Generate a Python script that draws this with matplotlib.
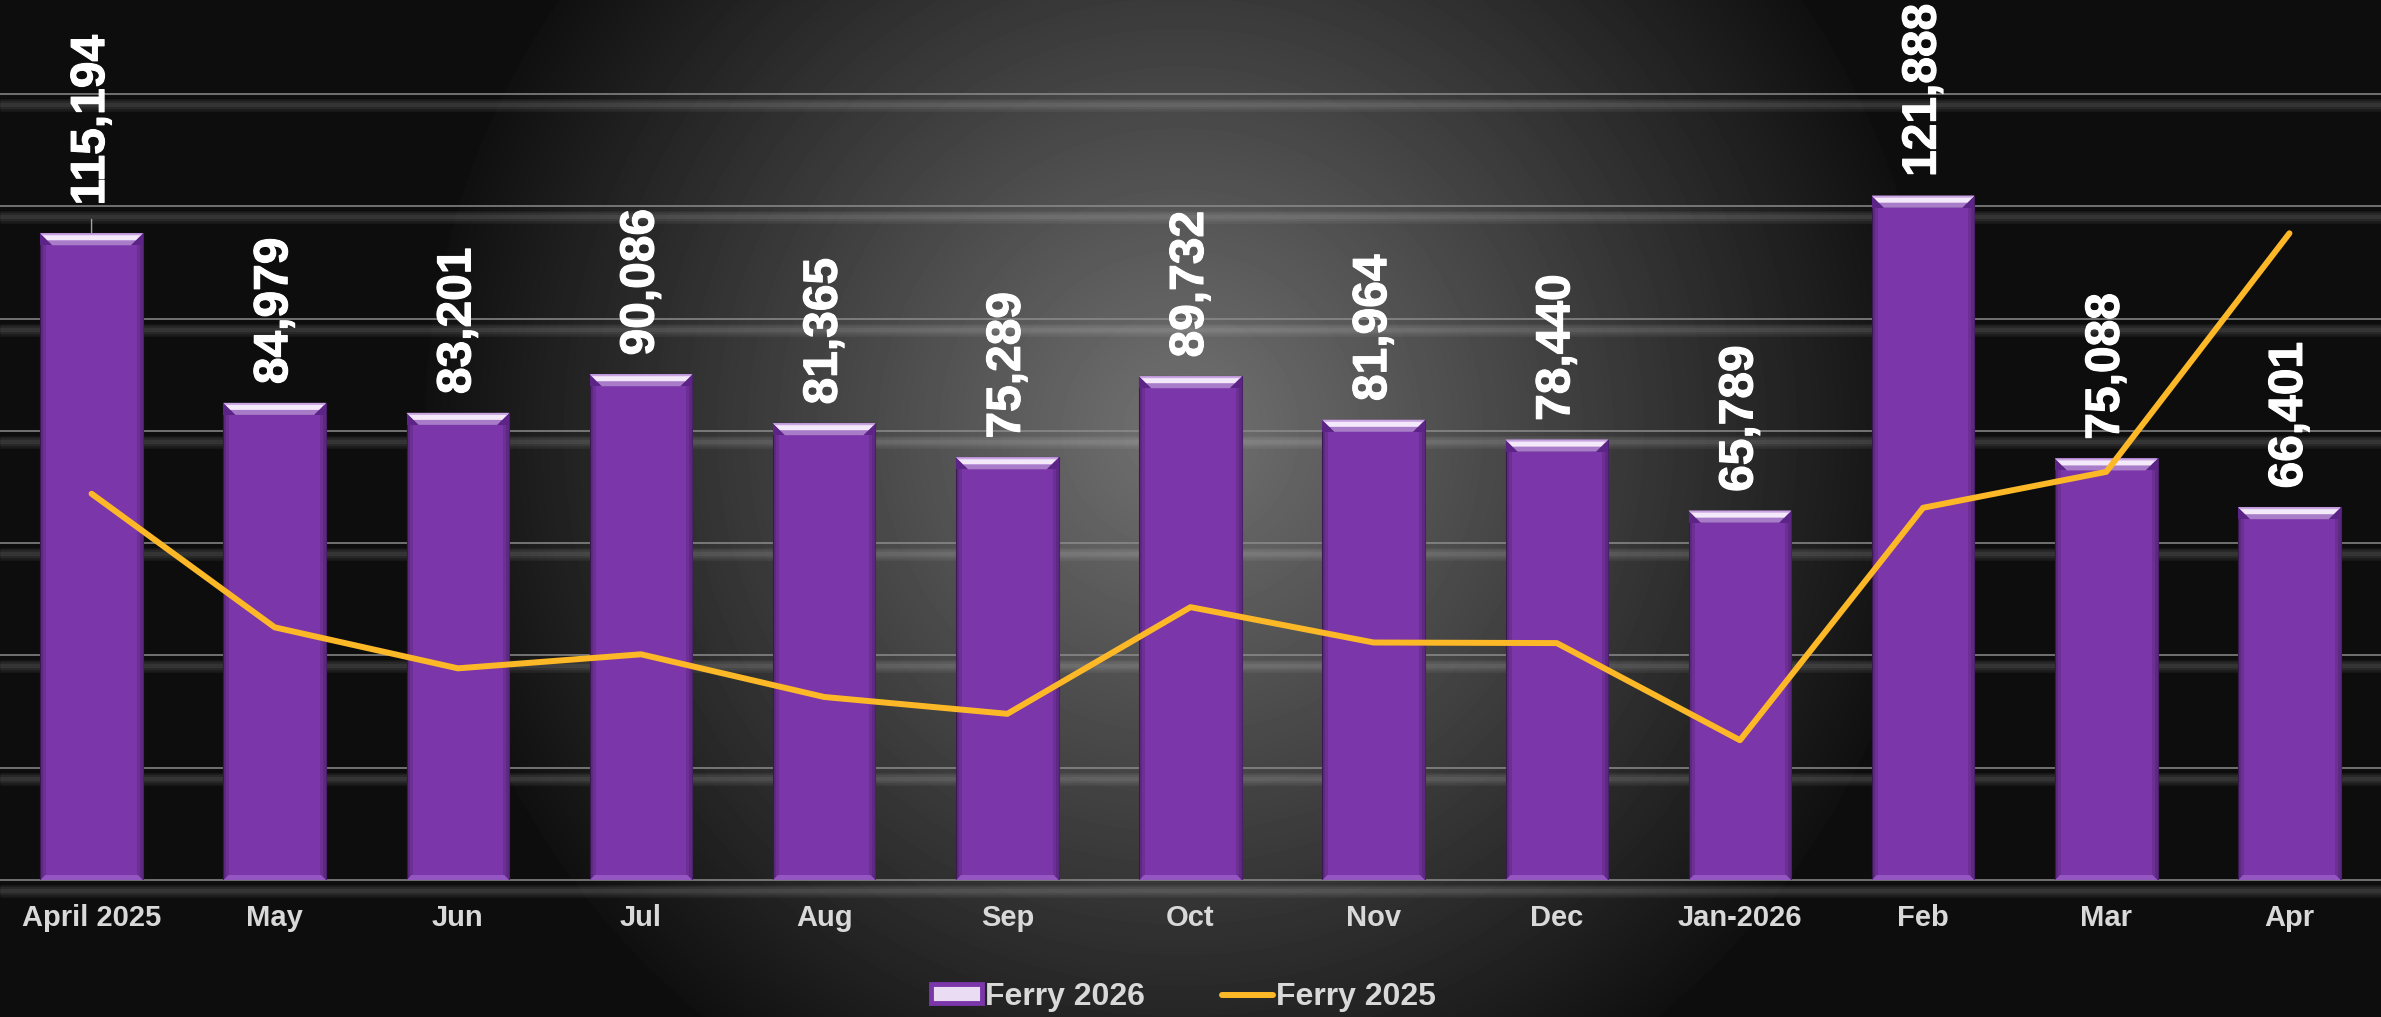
import numpy as np
import matplotlib.pyplot as plt
import matplotlib.patheffects as pe
from matplotlib.patches import Polygon, Patch
from matplotlib.lines import Line2D
from matplotlib.transforms import IdentityTransform, ScaledTranslation

plt.rcParams['font.family'] = 'Liberation Sans'

months = ['April 2025', 'May', 'Jun', 'Jul', 'Aug', 'Sep', 'Oct', 'Nov', 'Dec',
          'Jan-2026', 'Feb', 'Mar', 'Apr']
ferry_2026 = [115194, 84979, 83201, 90086, 81365, 75289, 89732, 81964, 78440,
              65789, 121888, 75088, 66401]
ferry_2025 = [68800, 45000, 37700, 40200, 32600, 29600, 48600, 42300, 42200,
              24900, 66300, 72700, 115194]
grid_ticks = [0, 20000, 40000, 60000, 80000, 100000, 120000, 140000]

W, H = 2381, 1017
fig = plt.figure(figsize=(W / 100, H / 100), dpi=100)

# radial grey background
yy, xx = np.mgrid[0:H, 0:W]
r = np.hypot(xx - 1180, yy - 430)
bgval = np.where(r < 756, 114 - 0.13 * r, 13)
bg = fig.add_axes([0, 0, 1, 1])
bg.imshow(bgval, cmap='gray', vmin=0, vmax=255, aspect='auto', interpolation='bilinear')
bg.axis('off')

ax = fig.add_axes([0, 1 - 880 / H, 1, (880 - 94) / H])
ax.patch.set_alpha(0)
x = np.arange(len(months))
ax.set_xlim(-0.5, len(months) - 0.5)
ax.set_ylim(0, 140000)
for s in ax.spines.values():
    s.set_visible(False)

# gridlines with a soft shadow band under each
shift = ax.get_yaxis_transform() + ScaledTranslation(0, -0.11, fig.dpi_scale_trans)
for v in grid_ticks:
    ax.plot([0, 1], [v, v], transform=ax.get_yaxis_transform(), color='#8c8c8c', lw=1.1, zorder=1,
            clip_on=False)
    for lw in (9, 6, 3):
        ax.plot([0, 1], [v, v], transform=shift, color='white', alpha=0.06, lw=lw, zorder=1,
                clip_on=False, solid_capstyle='butt')

bars = ax.bar(x, ferry_2026, width=0.56, color='#7b36a9', edgecolor='#4a2068', lw=0.8, zorder=3)

# bevel effects on each bar (pixel sized)
ident = IdentityTransform()
for rect in bars:
    px0, pyb = ax.transData.transform((rect.get_x(), 0))
    px1, pyt = ax.transData.transform((rect.get_x() + rect.get_width(), rect.get_height()))
    h = 12
    def add(pts, c, a=1.0):
        ax.add_patch(Polygon(pts, closed=True, transform=ident, facecolor=c, edgecolor='none',
                             alpha=a, zorder=3.5))
    # darker sides
    add([(px0, pyb), (px0 + 6, pyb), (px0 + 6, pyt), (px0, pyt)], 'black', 0.12)
    add([(px1 - 6, pyb), (px1, pyb), (px1, pyt), (px1 - 6, pyt)], 'black', 0.12)
    add([(px0, pyb), (px0 + 3, pyb), (px0 + 3, pyt), (px0, pyt)], 'black', 0.12)
    add([(px1 - 3, pyb), (px1, pyb), (px1, pyt), (px1 - 3, pyt)], 'black', 0.12)
    # top bevel
    add([(px0, pyt), (px1, pyt), (px1, pyt - h), (px0, pyt - h)], '#5b2486')
    add([(px0, pyt), (px1, pyt), (px1 - h, pyt - h), (px0 + h, pyt - h)], '#a87cc9')
    add([(px0 + 1, pyt - 1), (px1 - 1, pyt - 1), (px1 - 7, pyt - 7), (px0 + 7, pyt - 7)], '#f4e8fb')
    add([(px0, pyt), (px1, pyt), (px1 - 2, pyt - 2), (px0 + 2, pyt - 2)], '#c9a5e2')
    # bottom bevel
    add([(px0, pyb), (px1, pyb), (px1 - 5, pyb + 5), (px0 + 5, pyb + 5)], '#9457c2')

ax.plot(x, ferry_2025, color='#fdb827', lw=4.3, zorder=6, solid_joinstyle='round',
        solid_capstyle='round')

thick = [pe.withStroke(linewidth=0.8, foreground='white')]
for i, v in enumerate(ferry_2026):
    if i == 0:
        ax.annotate(f'{v:,}', xy=(i, v), xytext=(0, 20), textcoords='offset points',
                    rotation=90, ha='center', va='bottom', color='white', fontsize=34.5,
                    fontweight='bold', annotation_clip=False, zorder=5, path_effects=thick,
                    arrowprops=dict(arrowstyle='-', color='#a0a0a0', lw=1, shrinkA=8, shrinkB=0))
    else:
        ax.annotate(f'{v:,}', xy=(i, v), xytext=(0, 13.5), textcoords='offset points',
                    rotation=90, ha='center', va='bottom', color='white', fontsize=34.5,
                    fontweight='bold', annotation_clip=False, zorder=5, path_effects=thick)

ax.set_xticks(x, months)
ax.set_yticks(grid_ticks)
ax.tick_params(axis='x', length=0, pad=17, labelsize=21, labelcolor='#d9d9d9')
ax.tick_params(axis='y', left=False, labelleft=False)
for t in ax.get_xticklabels():
    t.set_fontweight('bold')

handles = [Patch(facecolor='#eadcf3', edgecolor='#7b36a9', lw=3.5),
           Line2D([], [], color='#fdb827', lw=4.3, solid_capstyle='round')]
fig.legend(handles, ['Ferry 2026', 'Ferry 2025'], loc='center', bbox_to_anchor=(0.497, 1 - 997 / H),
           ncol=2, frameon=False, labelcolor='#d9d9d9',
           prop=dict(family='Liberation Sans', weight='bold', size=23),
           handlelength=1.6, handleheight=0.55, handletextpad=0.1, columnspacing=2.4)

fig.savefig('out.png', dpi=100)
